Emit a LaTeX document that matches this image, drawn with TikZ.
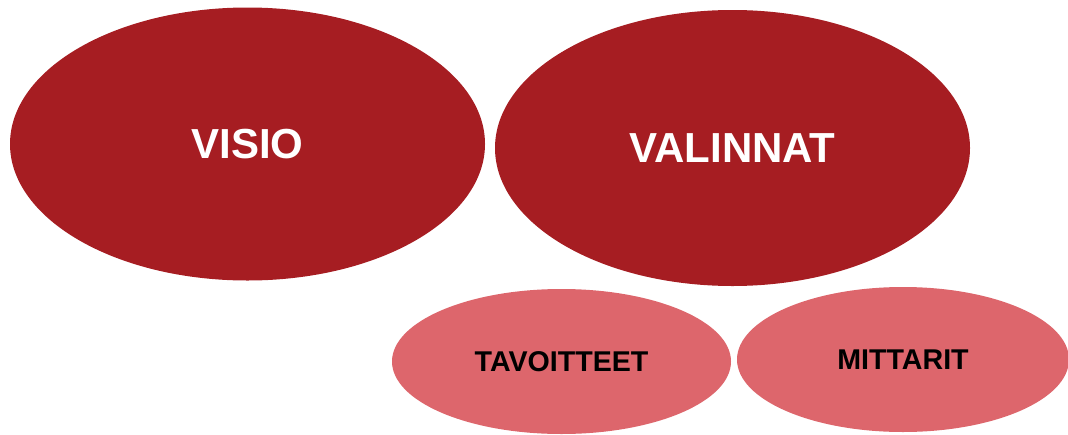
\documentclass[tikz,border=0pt]{standalone}
\usepackage{fontspec}
\setmainfont{Liberation Sans}
\usetikzlibrary{shapes.geometric}
\definecolor{darkred}{HTML}{A61D22}
\definecolor{lightred}{HTML}{DD666C}
\tikzset{
    big/.style={ellipse, fill=darkred, text=white, inner sep=0pt,
        minimum width=475pt, minimum height=273pt, font=\fontsize{42}{42}\bfseries\selectfont},
    small/.style={ellipse, fill=lightred, text=black, inner sep=0pt,
        minimum width=339pt, minimum height=145pt, font=\fontsize{28.6}{28.6}\bfseries\selectfont}
}
\begin{document}
\begin{tikzpicture}[x=1pt,y=-1pt]
        \useasboundingbox (0,0) rectangle (1068,434);

        \node[big] at (247.5,144) (visio) {VISIO};
        \node[big, minimum height=276pt] at (732.5,148) (valinnat) {\raisebox{-1pt}{VALINNAT}};

        \node[small] at (561.5,361.5) (tavoitteet) {TAVOITTEET};
        \node[small, minimum width=332pt] at (903,359.5) (mittarit) {MITTARIT};

    \end{tikzpicture}
\end{document}
